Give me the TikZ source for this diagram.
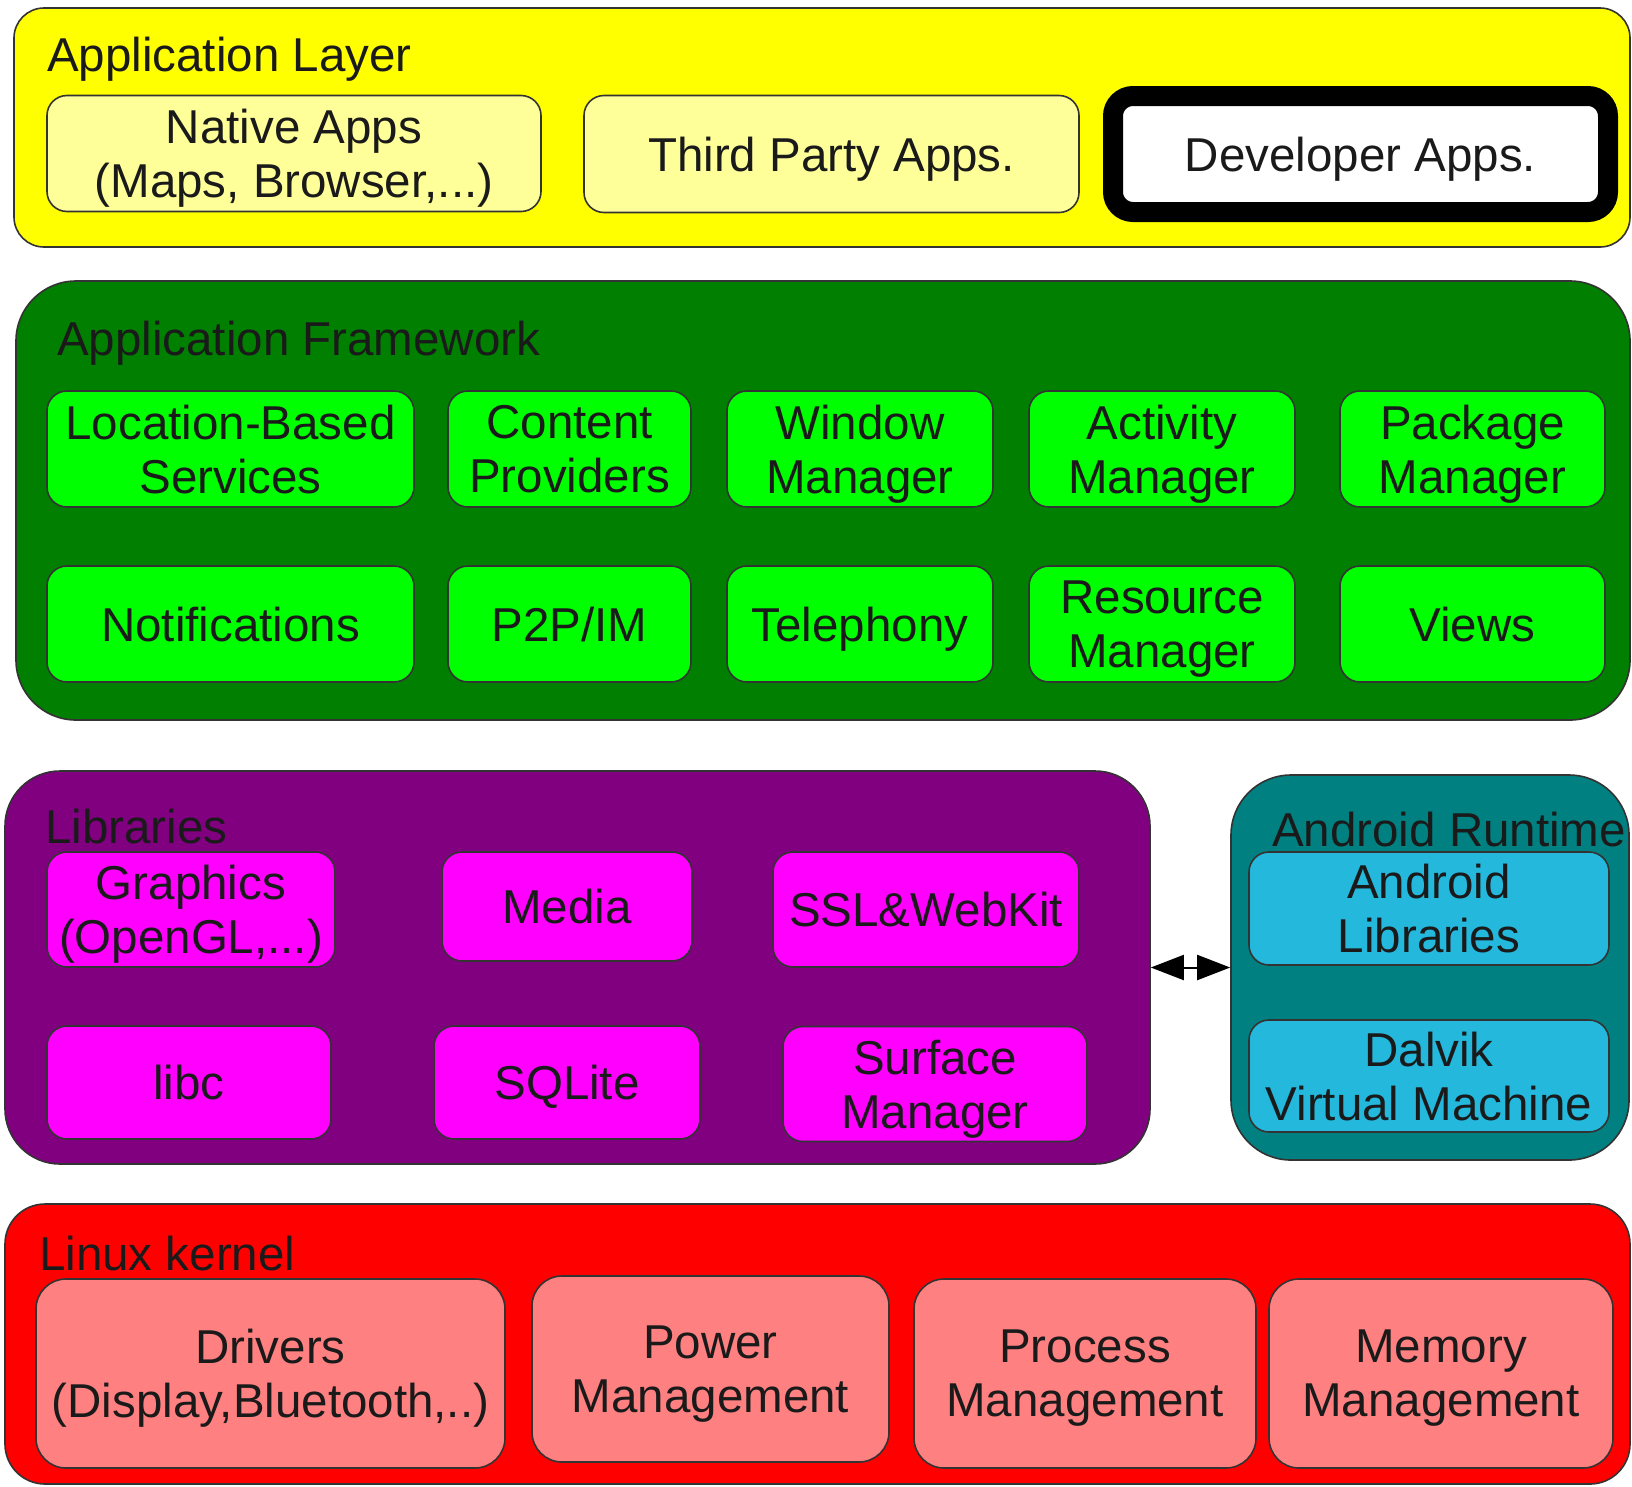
\documentclass[tikz,border=0pt]{standalone}
\usepackage{fontspec}
\setmainfont{Liberation Sans}
\usetikzlibrary{arrows.meta}
\definecolor{txt}{HTML}{1A1A1A}
\definecolor{edge}{HTML}{333333}
\definecolor{appyellow}{HTML}{FFFF00}
\definecolor{paleyellow}{HTML}{FFFF99}
\definecolor{fwgreen}{HTML}{007F00}
\definecolor{litegreen}{HTML}{00FF00}
\definecolor{libpurple}{HTML}{800080}
\definecolor{libpink}{HTML}{FF00FF}
\definecolor{rtteal}{HTML}{008080}
\definecolor{rtblue}{HTML}{23B8DC}
\definecolor{kred}{HTML}{FF0000}
\definecolor{ksalmon}{HTML}{FF8080}
\tikzstyle{every node}=[text=txt,font=\fontsize{47.5}{54}\selectfont,align=center,inner sep=0pt]
\tikzstyle{layer}=[draw=edge,line width=1.6pt]
\tikzstyle{box}=[draw=edge,line width=1.6pt,rounded corners=20pt,text depth=0pt]
\tikzstyle{title}=[anchor=base west]

\begin{document}
\begin{tikzpicture}[x=1pt,y=-1pt]
  \useasboundingbox (0,0) rectangle (1632,1486);
  % application layer
  \node[layer,fill=appyellow,rounded corners=30pt,minimum width=1616pt,minimum height=239pt] (applayer) at (822,127.5) {};
  \node[title] (apptitle) at (47,71) {Application Layer};
  \node[box,fill=paleyellow,minimum width=494pt,minimum height=116pt] (native) at (294,153.5) {Native Apps\\(Maps, Browser,...)};
  \node[box,fill=paleyellow,minimum width=495pt,minimum height=117pt] (thirdparty) at (831.5,154) {Third Party Apps.};
  \node[box,fill=white,draw=black,line width=20pt,minimum width=495pt,minimum height=116pt] (devapps) at (1360.5,154) {Developer Apps.};
  % framework
  \node[layer,fill=fwgreen,rounded corners=60pt,minimum width=1614pt,minimum height=439pt] (framework) at (823,500.5) {};
  \node[title] (fwtitle) at (57,355) {Application Framework};
  \node[box,fill=litegreen,minimum width=367pt,minimum height=116pt] (location) at (230.5,449) {Location-Based\\Services};
  \node[box,fill=litegreen,minimum width=243pt,minimum height=116pt] (content) at (569.5,449) {Content\\Providers};
  \node[box,fill=litegreen,minimum width=266pt,minimum height=116pt] (window) at (860,449) {Window\\Manager};
  \node[box,fill=litegreen,minimum width=266pt,minimum height=116pt] (activity) at (1162,449) {Activity\\Manager};
  \node[box,fill=litegreen,minimum width=265pt,minimum height=116pt] (package) at (1472.5,449) {Package\\Manager};
  \node[box,fill=litegreen,minimum width=367pt,minimum height=116pt] (notif) at (230.5,624) {Notifications};
  \node[box,fill=litegreen,minimum width=243pt,minimum height=116pt] (ptop) at (569.5,624) {P2P/IM};
  \node[box,fill=litegreen,minimum width=266pt,minimum height=116pt] (telephony) at (860,624) {Telephony};
  \node[box,fill=litegreen,minimum width=266pt,minimum height=116pt] (resource) at (1162,624) {Resource\\Manager};
  \node[box,fill=litegreen,minimum width=265pt,minimum height=116pt] (views) at (1472.5,624) {Views};
  % libraries
  \node[layer,fill=libpurple,rounded corners=55pt,minimum width=1145pt,minimum height=393pt] (libraries) at (577.5,967.5) {};
  \node[title] (libtitle) at (45,843) {Libraries};
  \node[box,fill=libpink,minimum width=288pt,minimum height=115pt] (graphics) at (191,909.5) {Graphics\\(OpenGL,...)};
  \node[box,fill=libpink,minimum width=250pt,minimum height=109pt] (media) at (567,906.5) {Media};
  \node[box,fill=libpink,minimum width=306pt,minimum height=115pt] (ssl) at (926,909.5) {SSL\&WebKit};
  \node[box,fill=libpink,minimum width=284pt,minimum height=113pt] (libc) at (189,1082.5) {libc};
  \node[box,fill=libpink,minimum width=266pt,minimum height=113pt] (sqlite) at (567,1082.5) {SQLite};
  \node[box,fill=libpink,minimum width=304pt,minimum height=115pt] (surface) at (935,1084) {Surface\\Manager};
  % android runtime
  \node[layer,fill=rtteal,rounded corners=60pt,minimum width=398pt,minimum height=385pt] (runtime) at (1430,967.5) {};
  \node[title] (rttitle) at (1272,846) {Android Runtime};
  \node[box,fill=rtblue,minimum width=360pt,minimum height=113pt] (androidlibs) at (1429,908.5) {Android\\Libraries};
  \node[box,fill=rtblue,minimum width=360pt,minimum height=112pt] (dalvik) at (1429,1076) {Dalvik\\Virtual Machine};
  \draw[line width=2pt,{Triangle[length=33pt,width=25pt]}-{Triangle[length=33pt,width=25pt]}] (libraries.east) -- (runtime.west);
  % linux kernel
  \node[layer,fill=kred,rounded corners=40pt,minimum width=1625pt,minimum height=280pt] (kernel) at (817.5,1344) {};
  \node[title] (ktitle) at (39,1270) {Linux kernel};
  \node[box,fill=ksalmon,rounded corners=30pt,minimum width=469pt,minimum height=189pt] (drivers) at (270.5,1373.5) {Drivers\\(Display,Bluetooth,..)};
  \node[box,fill=ksalmon,rounded corners=30pt,minimum width=357pt,minimum height=186pt] (power) at (710.5,1369) {Power\\Management};
  \node[box,fill=ksalmon,rounded corners=30pt,minimum width=342pt,minimum height=189pt] (process) at (1085,1373.5) {Process\\Management};
  \node[box,fill=ksalmon,rounded corners=30pt,minimum width=344pt,minimum height=189pt] (memory) at (1441,1373.5) {Memory\\Management};
\end{tikzpicture}
\end{document}
